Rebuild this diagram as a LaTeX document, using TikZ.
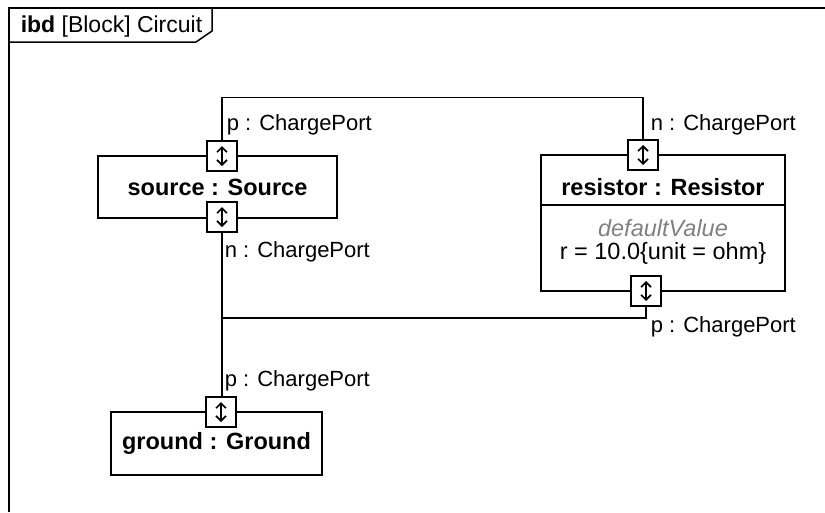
\documentclass[tikz,border=0pt]{standalone}
\usepackage{fontspec}
\setmainfont{Liberation Sans}
\usetikzlibrary{arrows.meta,positioning}

\begin{document}
\begin{tikzpicture}[x=1pt,y=-1pt,line width=1.5pt,
    every node/.style={font=\fontsize{22}{26}\selectfont},
    blockbox/.style={draw,rectangle,inner sep=0pt},
    blocktext/.style={font=\fontsize{23.5}{28}\selectfont},
    portbox/.style={draw,fill=white,minimum size=30pt,inner sep=0pt},
    portlabel/.style={anchor=west,inner sep=0pt},
    portsign/.style={line width=1.6pt,{Straight Barb[length=5pt,width=10pt]}-{Straight Barb[length=5pt,width=10pt]}}]
    \useasboundingbox (0,0) rectangle (825,512);
    % Frame
    \draw (9,512) -- (9,8) -- (825,8);
    \draw (9,42) -- (196,42) -- (212,31) -- (212,8);
    \node[anchor=west,inner sep=0pt,font=\fontsize{23}{27}\selectfont] (title) at (20,27) {\textbf{ibd} [Block] Circuit};
    % Blocks
    \node[blockbox,blocktext,minimum width=239pt,minimum height=62pt] (source) at (217.5,187) {\textbf{source : Source}};
    \node[blockbox,minimum width=244pt,minimum height=136pt] (resistor) at (663,223) {};
    \node[blockbox,blocktext,minimum width=211pt,minimum height=63pt] (ground) at (216.5,443.5) {\textbf{ground : Ground}};
    % Resistor compartments
    \coordinate (cl) at (541,205);
    \coordinate (cr) at (785,205);
    \draw (cl) -- (cr);
    \node[blocktext] (resname) at (663,187) {\textbf{resistor : Resistor}};
    \node[blocktext,text=gray] (resdef) at (663,228) {\textit{defaultValue}};
    \node[blocktext] (resval) at (663,253) {r = 10.0\{unit = ohm\}};
    % Ports
    \node[portbox] (srcp) at (222,156) {};
    \node[portbox] (srcn) at (222,217) {};
    \node[portbox] (resn) at (643,155) {};
    \node[portbox] (resp) at (646,291) {};
    \node[portbox] (gndp) at (221,412) {};
    \foreach \p in {srcp,srcn,resn,resp,gndp}
        \draw[portsign] ([yshift=10pt]\p.center) -- ([yshift=-10pt]\p.center);
    % Port labels
    \node[portlabel] at (226,125) {p : ChargePort};
    \node[portlabel] at (224,252) {n : ChargePort};
    \node[portlabel] at (650,125) {n : ChargePort};
    \node[portlabel] at (650,327) {p : ChargePort};
    \node[portlabel] at (224,381) {p : ChargePort};
    % Connectors
    \coordinate (join) at (222,318);
    \draw (srcp.north) -- ++(0,-43) -| (resn.north);
    \draw (srcn.south) -- (join) |- (gndp.north);
    \draw (join) -| (resp.south);
\end{tikzpicture}
\end{document}
